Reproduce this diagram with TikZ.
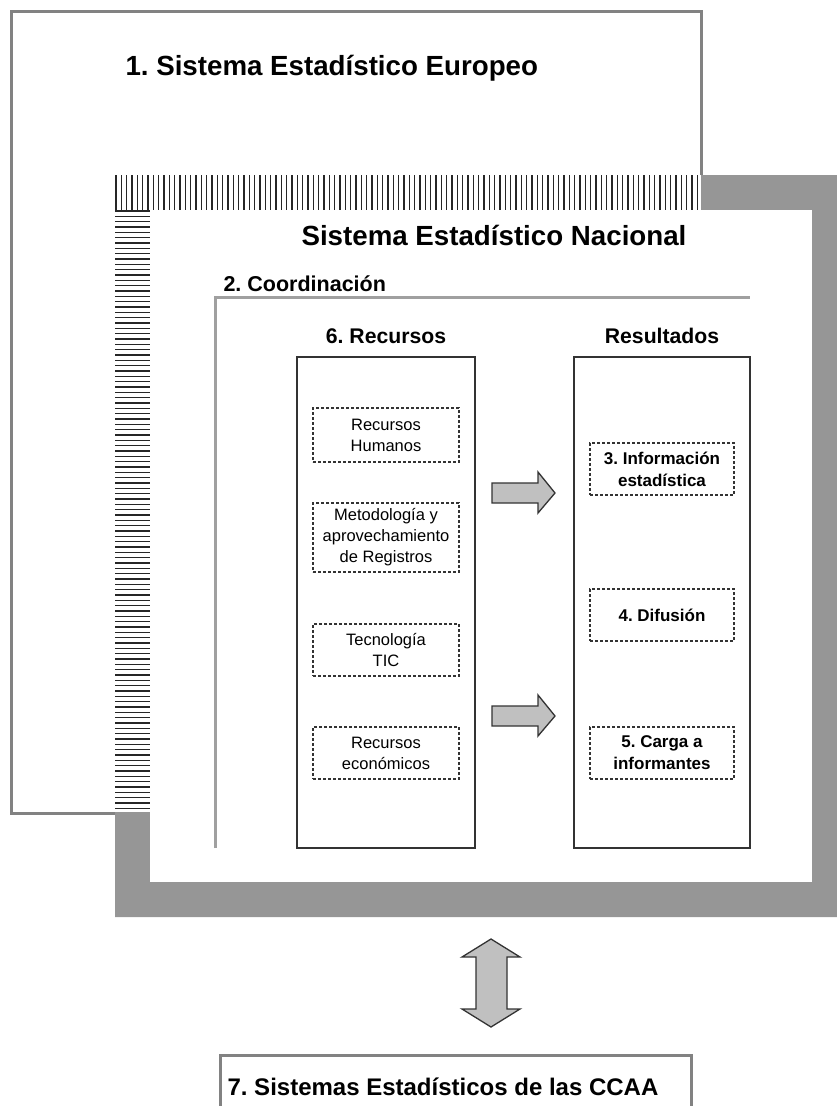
\documentclass[tikz,border=0pt]{standalone}
\usepackage{fontspec}
\setmainfont{Liberation Sans}
\frenchspacing
\definecolor{framegray}{RGB}{130,130,130}
\definecolor{shadowgray}{RGB}{150,150,150}
\definecolor{coordgray}{RGB}{160,160,160}
\definecolor{arrowfill}{RGB}{192,192,192}
\definecolor{inkgray}{RGB}{51,51,51}
\tikzset{
	title text/.style={
		font=\fontsize{27.7}{33}\selectfont\bfseries
	},
	column title/.style={
		font=\fontsize{21.2}{25}\selectfont\bfseries
	},
	column box/.style={
		draw=inkgray, line width=1.5pt,
		minimum width=178pt, minimum height=491pt
	},
	dashed box/.style={
		draw=inkgray, line width=1.2pt, dash pattern=on 3pt off 2pt,
		minimum width=146pt, inner sep=0pt, align=center,
		font=\fontsize{16.5}{21}\selectfont
	},
	result box/.style={
		dashed box, minimum width=144pt, minimum height=52pt,
		font=\fontsize{17}{22}\selectfont\bfseries
	},
	block arrow/.style={
		fill=arrowfill, draw=inkgray, line width=1.3pt
	},
	hatch line/.style={
		black!85, line width=1.3pt
	}
}
\begin{document}
\begin{tikzpicture}[x=1pt, y=-1pt]
		\useasboundingbox (0,0) rectangle (836,1106);
		% europeo
		\draw[framegray, line width=3pt] (11.5,11.5) rectangle (701.5,813);
		\node[title text, anchor=base west] (europeo) at (122,75) {1. Sistema Estadístico Europeo};
		% nacional, with its shadow
		\fill[white] (115,175) rectangle (701,210) (115,210) rectangle (150,812);
		\foreach \i in {0,...,109}
			\draw[hatch line] ({116+5.333*\i},175) -- ++(0,35);
		\foreach \i in {0,...,112}
			\draw[hatch line] (115,{211+5.333*\i}) -- ++(35,0);
		\fill[shadowgray] (701,175) rectangle (850,210) (812,175) rectangle (850,917)
			(115,882) rectangle (850,917) (115,812) rectangle (150,917);
		\fill[white] (150,210) rectangle (812,882);
		\node[title text, anchor=base] (nacional) at (494,245) {Sistema Estadístico Nacional};
		% coordinacion
		\draw[coordgray, line width=3pt] (215,848) -- (215,297) -- (750,297);
		\node[column title, font=\fontsize{21.5}{25}\selectfont\bfseries, anchor=base west] (coordinacion) at (220,291) {2. Coordinación};
		% recursos
		\node[column box] (recursos) at (386,602.5) {};
		\node[column title, anchor=base] (recursos title) at (386,343) {6. Recursos};
		\node[dashed box, minimum height=54pt] (humanos) at (386,435) {Recursos\\Humanos};
		\node[dashed box, minimum height=69pt] (metodologia) at (386,537.5) {Metodología y\\aprovechamiento\\de Registros};
		\node[dashed box, minimum height=52pt] (tecnologia) at (386,650) {Tecnología\\TIC};
		\node[dashed box, minimum height=52pt] (economicos) at (386,753) {Recursos\\económicos};
		% resultados
		\node[column box, minimum width=176pt] (resultados) at (662,602.5) {};
		\node[column title, anchor=base] (resultados title) at (662,343) {Resultados};
		\node[result box] (informacion) at (662,469) {3. Información\\estadística};
		\node[result box] (difusion) at (662,615) {4. Difusión};
		\node[result box] (carga) at (662,753) {5. Carga a\\informantes};
		\foreach \y in {493,716}
			\filldraw[block arrow] (492,\y-10) -- (538,\y-10) -- (538,\y-21) -- (555,\y)
				-- (538,\y+20) -- (538,\y+10) -- (492,\y+10) -- cycle;
		% ccaa
		\filldraw[block arrow] (491,939) -- (520,957) -- (507,957) -- (507,1009) -- (520,1009)
			-- (491,1027) -- (462,1009) -- (476,1009) -- (476,957) -- (462,957) -- cycle;
		\draw[framegray, line width=3pt] (220,1130) -- (220,1055.7) -- (691.7,1055.7) -- (691.7,1130);
		\node[title text, font=\fontsize{24}{29}\selectfont\bfseries, anchor=base] (ccaa) at (443,1095) {7. Sistemas Estadísticos de las CCAA};
\end{tikzpicture}
\end{document}
